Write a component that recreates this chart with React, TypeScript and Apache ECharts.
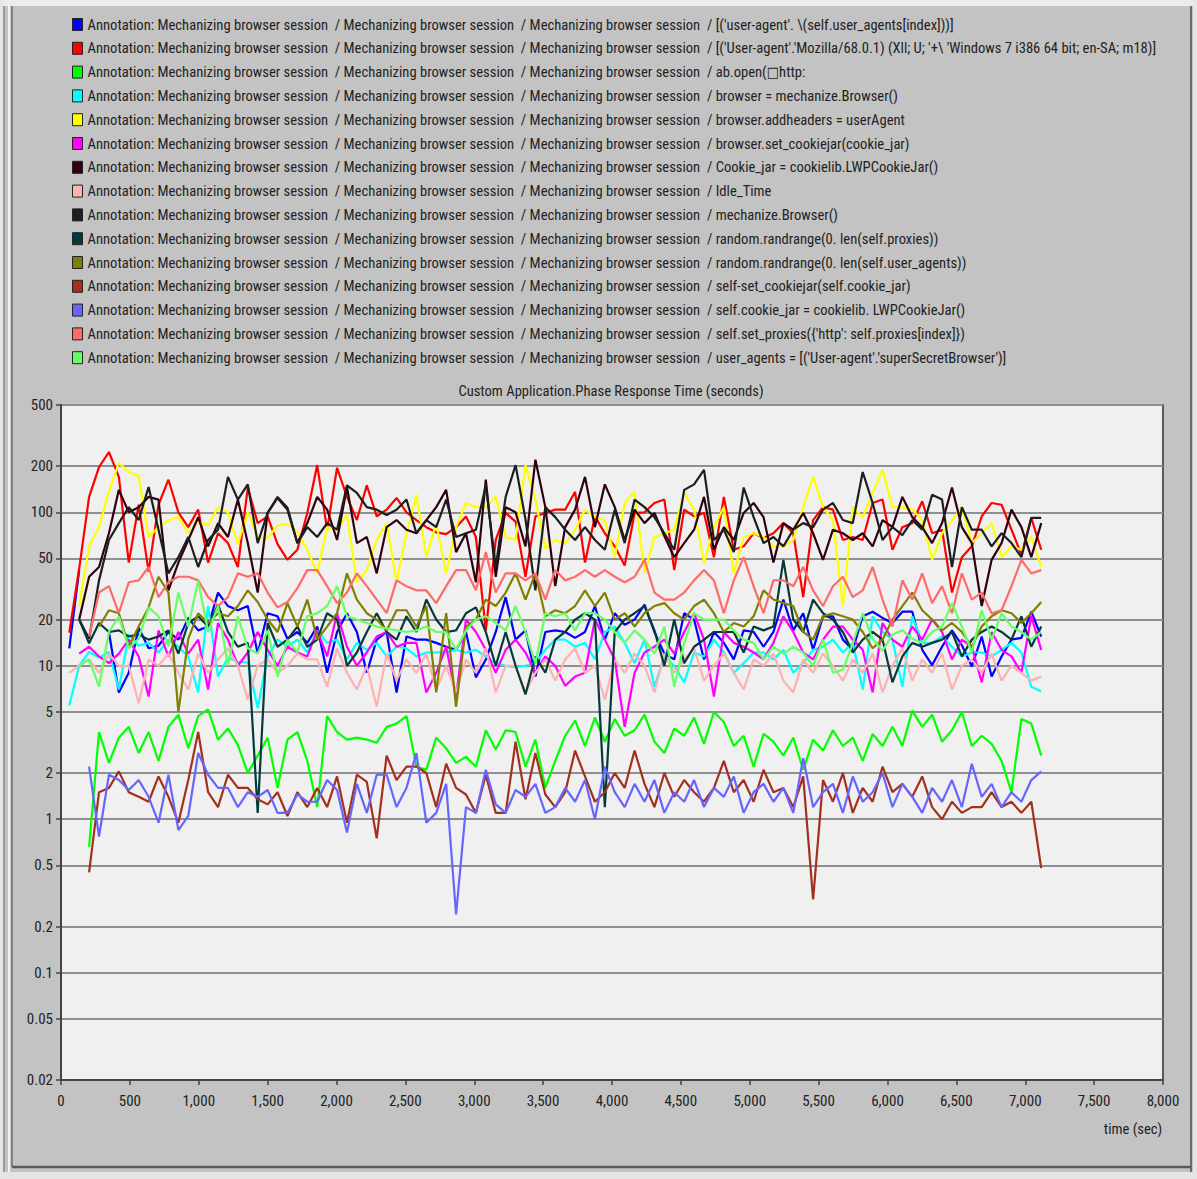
import React, { useEffect, useRef } from 'react';
import * as echarts from 'echarts';

const FONT = "'Liberation Sans Narrow', 'Arial Narrow', 'Roboto Condensed', 'DejaVu Sans Condensed', Roboto, 'Liberation Sans', Arial, sans-serif";

const times = [60,132,204,276,348,420,492,564,636,708,780,852,924,996,1068,1140,1212,1284,1356,1428,1500,1572,1644,1716,1788,1860,1932,2004,2076,2148,2220,2292,2364,2436,2508,2580,2652,2724,2796,2868,2940,3012,3084,3156,3228,3300,3372,3444,3516,3588,3660,3732,3804,3876,3948,4020,4092,4164,4236,4308,4380,4452,4524,4596,4668,4740,4812,4884,4956,5028,5100,5172,5244,5316,5388,5460,5532,5604,5676,5748,5820,5892,5964,6036,6108,6180,6252,6324,6396,6468,6540,6612,6684,6756,6828,6900,6972,7044,7116];

const yTicks = [0.02, 0.05, 0.1, 0.2, 0.5, 1, 2, 5, 10, 20, 50, 100, 200, 500];

const prefix = 'Annotation: Mechanizing browser session  / Mechanizing browser session  / Mechanizing browser session  / ';
const suffixes = [
  "[('user-agent'. \\(self.user_agents[index]))]",
  "[('User-agent'.'Mozilla/68.0.1) (Xll; U; '+\\ 'Windows 7 i386 64 bit; en-SA; m18)]",
  'ab.open(\u25a1http:',
  'browser = mechanize.Browser()',
  'browser.addheaders = userAgent',
  'browser.set_cookiejar(cookie_jar)',
  'Cookie_jar = cookielib.LWPCookieJar()',
  'Idle_Time',
  'mechanize.Browser()',
  'random.randrange(0. len(self.proxies))',
  'random.randrange(0. len(self.user_agents))',
  'self-set_cookiejar(self.cookie_jar)',
  'self.cookie_jar = cookielib. LWPCookieJar()',
  "self.set_proxies({'http': self.proxies[index]})",
  "user_agents = [('User-agent'.'superSecretBrowser')]",
];

const colors = ['#0000ff','#ff0000','#00ff00','#00ffff','#ffff00','#ff00ff','#2e0010','#ffb0b0','#1e1e1e','#053a3a','#808000','#a3301f','#6666ff','#ff6a6a','#66ff66'];

const blue = [13,42,null,null,16.6,6.7,9,17.7,13,13.5, 16.6,14.8,20.5,17,18,30,24.5,23,24.5,12, 22,21,15,16.6,14.1,18,9,16.6,22,16.6, 9,14.8,16.6,6.7,15.5,14.8,14.8,14.1,13.3,12.7, 16.6,8.4,11,16.6,28,14.8,17,8.5,16.6,17, 16.6,15.2,16.6,24.5,14.8,22,18.5,20,25,16.6, 12,11,22,20,11,16.6,14.1,11,17,16.6, 13.3,16.6,27,17,22,12.7,21,21,14.8,12.7, 21,22.5,20.5,19,22.5,22.5,12.7,10.1,13.3,17, 13.6,9.9,15.5,8.5,11.5,14.8,15.2,22.5,15.5];
const red = [16.4,43,126,197,247,170,47,112,41,112, 163,100,80,104,47,73,63,44,145,85, 94,62,49,57,99,203,77,195,126,89, 150,94,104,124,100,89,80,74,72,80, 94,69,17,66,99,87,38,94,99,104, 104,136,47,94,73,60,45,99,100,115, 121,42,104,94,99,51,126,57,60,73, 68,73,85,73,28,89,108,104,66,69, 66,115,121,57,80,85,118,73,77,30, 51,60,94,115,112,77,53,92,57];
const green = [null,null,0.66,3.7,2.33,3.4,4,2.7,3.7,2.4, 4,4.8,2.9,4.7,5.2,3.3,3.9,3.05,2,2.6, 3.4,1.6,3.3,3.7,2.4,1.2,4.7,3.7,3.3,3.4, 3.3,3.15,4,4.2,4.7,2.2,2.1,3.4,2.9,2.33, 2.55,2.2,3.8,2.85,3.8,3.7,2.2,3.3,1.6,2.4, 3.5,4.4,3,4.6,3.2,4.5,3.5,3.8,4.8,3.2, 2.7,3.9,3.5,4.6,3.1,5,4.3,3,3.5,2.2, 3.6,3.2,2.6,3.4,2.1,3.3,2.8,3.8,3,3.4, 2.4,3.6,3,4,3,5.1,4,4.8,3.2,3.8, 5,3,3.5,3.1,2.4,1.5,4.5,4.2,2.6];
const cyan = [5.5,10,12.3,11.3,12.3,7,16,13.5,14.1,12.2, 14.8,13.3,11.5,6.7,24.5,8.5,11.3,10.6,10.5,5.3, 11.5,14.8,13.3,14.8,12.2,17,14.1,14.8,11,14.1, 12.7,14.1,11.5,13.3,13,11.5,12.2,12.2,12.3,12.7, 12.2,12.7,11.5,10.4,10,9.8,10,10.4,12.7,14.8, 14.8,13.3,14.1,11,16.6,18,14.1,10.4,14.8,7.3, 11.5,10,7.8,12.2,11.5,14.8,12.2,9,10.4,12.2, 12.2,11,12.7,9,10.4,12.7,13.3,14.8,12.2,14.1, 7,21,16.6,14.8,7.3,21,14.1,14.1,15.5,13.3, 11.5,12.2,12.2,11.5,12.7,14.1,12.2,7.3,6.8];
const yellow = [null,24.5,60,80,137,210,183,172,69,80, 89,93,73,87,82,108,100,62,100,69, 68,82,84,75,57,40,80,77,96,35, 42,66,85,35,73,130,51,85,40,80, 115,108,108,126,69,66,203,121,58,66, 63,77,104,93,89,51,115,136,40,69, 73,77,134,104,47,80,108,40,69,73, 69,60,60,66,108,170,108,89,24.5,108, 93,134,189,108,108,104,89,49,73,89, 108,63,73,85,51,60,57,69,44];
const magenta = [null,12,13.3,11.5,10.4,12,14.8,11.5,6.3,17, 11.5,16.6,12,14.8,7,19,14.8,10,12.2,16.6, 12.7,10,13.3,12.2,11.5,17,11.5,22,13.3,10, 12.2,15.5,16.6,13.3,14.1,14.1,6.7,9,13.3,6.3, 20,16.6,12.7,9,12.7,14.8,12.2,9,11.5,10, 7.4,8.5,9,20,14.8,11,4,9,12.2,13.3, 14.8,12,16.6,22,14.8,6.3,16.6,14.1,13.3,12.2, 11,14.1,21,16.6,12.2,11,14.8,18,18,14.8, 12.7,6.7,19,14.8,13.3,18,14.8,20,16.6,11, 14.8,13.3,7.8,16.6,12.7,11.5,9,21,12.7];
const maroon = [null,20,38,44,73,140,100,108,126,121, 31,47,66,93,60,85,69,121,63,30, 99,124,104,63,85,126,104,66,146,63, 69,40,80,89,77,73,89,108,140,55, 73,35,163,38,108,100,60,220,108,33, 80,104,170,80,152,108,66,104,85,99, 70,51,63,77,126,57,80,66,99,115, 93,47,85,77,99,73,49,77,73,66, 73,60,89,80,126,93,80,63,85,145, 80,63,24.5,49,63,104,80,51,85];
const pink = [9,10,11,9,12,10,10,5.7,11,10, 12,9,7,12,9,11,13,10,6,10, 11,9,10,12,11,11,7.3,13,9,7, 10,5.4,12,8,11,9,12,7,10,6.7, 11,9,13,6.7,10,10,6.7,9,11,8, 11,13,9,10,6,11,9,12,10,6.7, 12,9,11,13,8,10,12,9,7,11, 10,12,8,6.7,11,9,12,10,8,11, 9,12,6.7,10,13,8,11,9,12,7, 10,11,9,12,8,10,9,8,8.5];
const black = [null,20,15,36,66,85,108,89,146,77, 40,51,69,44,66,77,170,121,152,63, 99,126,107,63,80,69,85,77,150,134, 108,104,96,104,121,73,89,80,121,69, 73,77,150,44,126,203,90,31,108,93, 77,66,80,66,57,104,63,121,108,93, 73,57,140,152,189,66,77,55,145,93, 63,69,60,77,85,80,104,115,89,85, 183,115,66,80,71,89,77,130,121,44, 108,77,77,60,73,63,51,92,92];
const teal = [null,20,14,19,16.6,17,15.5,16,14.8,15.5, 17,12,19,21,18,25,16.6,13.3,14.1,1.1, 19,13.3,14.8,18,13.3,14.8,22,20,10,12.2, 16.6,22,16.6,14.8,21,16.6,27,20,16.6,17, 22,24,16.6,10,16.6,10,6.5,11.5,9,14.8, 16.6,20,22,20,1.2,16.6,20,22,24.5,17, 10,20,10.4,13.3,14.8,16.6,16.6,16.6,12.2,18, 17,18,49,20,16.6,27,22,20,16.6,12.2, 14.8,16.6,14.8,7.8,11.5,14.1,13.3,14.1,14.8,16.6, 11.5,14.8,16.6,18,16.6,14.8,21,13.3,18];
const olive = [null,null,null,18,23,22,13.3,18,24,38, 30,5,15,22,19,22,21,24.5,31,26, 20,16.6,25.6,18,27,14.8,18,22,40,27, 22,20,17,23,23,18,24.5,6.7,22,5.4, 18,20,27,24.5,30,40,27,40,21,23, 22,24.5,31,24.5,30,20,22,18,22,24.5, 25.6,22,20,24.5,27,22,16.6,19,18,21, 31,27,25.6,24.5,16.6,14.8,21,22,21,20, 16.6,13,14.8,20,24.5,30,23,20,17,19, 16.6,13.3,18,21,23,22,19,22,26];
const brown = [null,null,0.45,1.5,1.6,2.05,1.5,1.4,1.3,1.9, 1.4,0.95,1.8,3.7,1.5,1.2,1.95,1.6,1.6,1.35, 1.25,1.5,1.05,1.5,1.2,1.6,1.2,1.9,0.95,1.95, 1.75,0.75,2.6,1.8,2.2,2.2,2,1.2,2.3,1.6, 1.45,1.1,1.95,1.1,1.1,3.2,1.35,2.7,1.45,1.2, 1.5,2.8,1.9,1.3,1.5,2,1.6,2.8,1.7,1.2, 2,1.4,1.8,1.5,1.3,1.6,2.4,1.5,1.8,1.3, 2.1,1.5,1.6,1.2,1.9,0.3,1.8,1.3,2,1.1, 1.6,1.3,2.2,1.5,1.7,1.4,1.9,1.2,1,1.3, 1.1,1.2,1.2,1.5,1.2,1.3,1.1,1.3,0.48];
const lightBlue = [null,null,2.2,0.77,1.95,1.8,1.55,1.8,1.4,0.95, 1.95,0.85,1.05,2.7,1.95,1.6,1.6,1.2,1.5,1.4, 1.55,1.1,1.1,1.45,1.3,1.3,1.8,1.55,0.82,1.7, 1.1,1.95,1.95,1.2,1.6,2.7,0.95,1.1,1.7,0.24, 1.2,1.1,2.1,1.25,1.1,1.55,1.4,1.7,1.1,1.2, 1.6,1.3,1.8,1,2.2,1.5,1.2,1.7,1.3,1.8, 1.1,1.5,1.3,1.8,1.2,1.6,1.4,1.9,1.1,1.5, 1.7,1.3,1.6,1.1,2.5,1.2,1.5,1.7,1.1,1.9, 1.3,1.5,2,1.2,1.7,1.4,1.1,1.6,1.3,1.8, 1.2,2.3,1.4,1.7,1.2,1.5,1.3,1.8,2.05];
const salmon = [null,null,15.5,30,33,22,35,36,44,28, 35,38,38,36,28,24.5,28,40,38,40, 30,24,26,32,42,42,33,25.6,30,40, 33,27,22,36,33,31,31,25.6,33,42, 42,31,55,30,40,40,36,40,27,42, 36,38,42,38,42,38,35,38,49,30, 27,27,30,36,42,36,22,36,51,33, 22,36,36,33,44,31,24.5,33,38,28, 31,44,27,18,36,27,40,25.6,33,22, 40,27,30,22,23,33,49,40,42];
const lightGreen = [null,10,11,7.3,16.6,21,13,15,24,21, 13.3,30,18,36,16.6,24.5,10,21,13,12, 17,8.5,14.8,12.2,21,22,24.5,33,21,20, 19,18,17.5,17,16.6,17,18,16.6,16.6,12.7, 17,20,21,19,17,24.5,16.6,10.4,22,21, 22,17,22,22,20,16.6,14.1,17,14.8,12, 18,7.3,14,22,20,20,20,17,14.8,14.1, 11,13.3,12,13.3,12.2,10,14.8,9,9.4,14, 22,15,12.5,16,17,15,14.1,16.6,18,25.6, 18,12.2,23,14.8,22,18,16.6,14.8,16.6];

const allValues = [blue, red, green, cyan, yellow, magenta, maroon, pink, black, teal, olive, brown, lightBlue, salmon, lightGreen];

function toPairs(vals: (number | null)[]) {
  const out: any[] = [];
  let started = false;
  vals.forEach((v, i) => {
    if (v === null) {
      if (started) out.push([times[i], null]);
    } else {
      started = true;
      out.push([times[i], v]);
    }
  });
  return out;
}

function fmtY(v: number) {
  return String(Number(Number(v).toPrecision(3)));
}

export default function App() {
  const ref = useRef<HTMLDivElement>(null);
  useEffect(() => {
    if (!ref.current) return;
    const chart = echarts.init(ref.current, null, { renderer: 'svg' });
    const names = suffixes.map((s) => prefix + s);
    const series = allValues.map((vals, k) => ({
      name: names[k],
      type: 'line',
      data: toPairs(vals),
      showSymbol: false,
      symbol: 'none',
      connectNulls: false,
      lineStyle: { color: colors[k], width: 2.2 },
      itemStyle: { color: colors[k] },
      z: 3,
    }));
    const option: any = {
      animation: false,
      backgroundColor: '#c3c3c3',
      textStyle: { fontFamily: FONT },
      legend: {
        show: true,
        orient: 'vertical',
        left: 67,
        top: 12,
        icon: 'rect',
        itemWidth: 10,
        itemHeight: 12,
        itemGap: 8.8,
        selectedMode: false,
        data: names,
        itemStyle: { borderColor: '#222', borderWidth: 1 },
        textStyle: { fontFamily: FONT, fontSize: 14.6, color: '#222', lineHeight: 14 },
      },
      grid: {
        left: 61,
        top: 405,
        width: 1102,
        height: 675,
        show: true,
        backgroundColor: '#f0f0f0',
        borderColor: '#5a5a5a',
        borderWidth: 2,
        containLabel: false,
        outerBoundsMode: 'none',
      },
      xAxis: {
        type: 'value',
        min: 0,
        max: 8000,
        interval: 500,
        axisLine: { show: true, onZero: false, lineStyle: { color: '#444', width: 2 } },
        axisTick: { show: true, length: 5, lineStyle: { color: '#444', width: 1.5 } },
        axisLabel: {
          margin: 13,
          fontSize: 15,
          color: '#222',
          fontFamily: FONT,
          formatter: (v: number) => v.toLocaleString('en-US'),
        },
        splitLine: { show: false },
      },
      yAxis: {
        type: 'log',
        logBase: 10,
        min: 0.02,
        max: 500,
        axisLine: { show: true, lineStyle: { color: '#444', width: 2 } },
        axisTick: { show: true, length: 5, customValues: yTicks, lineStyle: { color: '#444', width: 1.5 } },
        axisLabel: {
          customValues: yTicks,
          margin: 8,
          fontSize: 15,
          color: '#222',
          fontFamily: FONT,
          formatter: (v: number) => fmtY(v),
        },
        splitLine: { show: true, lineStyle: { color: '#8f8f8f', width: 2 } },
        minorTick: { show: false },
        minorSplitLine: { show: false },
      },
      graphic: [
        { type: 'rect', shape: { x: 0, y: 0, width: 1197, height: 6 }, style: { fill: '#ececec' }, z: 0, silent: true },
        { type: 'rect', shape: { x: 0, y: 0, width: 3, height: 1179 }, style: { fill: '#e6e6e6' }, z: 0, silent: true },
        { type: 'line', shape: { x1: 4, y1: 6, x2: 4, y2: 1175 }, style: { stroke: '#8a8a8a', lineWidth: 1.5 }, z: 0, silent: true },
        { type: 'line', shape: { x1: 9, y1: 6, x2: 9, y2: 1175 }, style: { stroke: '#f2f2f2', lineWidth: 2 }, z: 0, silent: true },
        { type: 'line', shape: { x1: 12, y1: 6, x2: 12, y2: 1167 }, style: { stroke: '#707070', lineWidth: 1.5 }, z: 0, silent: true },
        { type: 'line', shape: { x1: 1191, y1: 6, x2: 1191, y2: 1172 }, style: { stroke: '#6a6a6a', lineWidth: 2 }, z: 0, silent: true },
        { type: 'rect', shape: { x: 1193, y: 0, width: 4, height: 1179 }, style: { fill: '#e6e6e6' }, z: 0, silent: true },
        { type: 'line', shape: { x1: 12, y1: 1167, x2: 1191, y2: 1167 }, style: { stroke: '#5a5a5a', lineWidth: 2.5 }, z: 0, silent: true },
        { type: 'rect', shape: { x: 0, y: 1172, width: 1197, height: 7 }, style: { fill: '#e4e4e4' }, z: 0, silent: true },
        {
          type: 'text', x: 611, y: 391,
          style: { text: 'Custom Application.Phase Response Time (seconds)', fontFamily: FONT, fontSize: 14.6, fill: '#222', align: 'center', verticalAlign: 'middle' },
          silent: true,
        },
        {
          type: 'text', x: 1133, y: 1129,
          style: { text: 'time (sec)', fontFamily: FONT, fontSize: 14.6, fill: '#222', align: 'center', verticalAlign: 'middle' },
          silent: true,
        },
      ],
      series,
    };
    chart.setOption(option);
    return () => chart.dispose();
  }, []);
  return <div ref={ref} style={{ position: 'fixed', left: 0, top: 0, width: 1197, height: 1179 }} />;
}
